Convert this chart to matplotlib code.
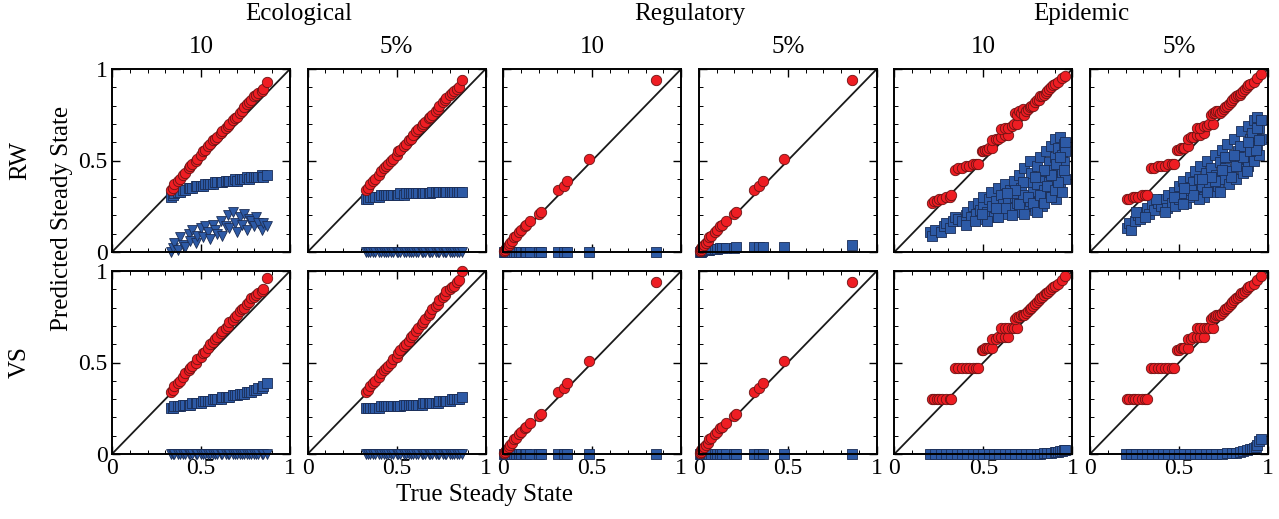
import numpy as np
import matplotlib
matplotlib.use('Agg')
from matplotlib import pyplot as plt
from matplotlib.ticker import MultipleLocator

plt.rcParams['font.family'] = ['Liberation Serif', 'DejaVu Serif']

# ---- data ----
groups = ['Ecological', 'Regulatory', 'Epidemic']
sub_titles = ['10', '5%']
row_labels = ['RW', 'VS']
tick_vals = [0, 0.5, 1]
tick_text = ['0', '0.5', '1']

# ecological
eco_x = [0.33, 0.34, 0.35, 0.37, 0.38, 0.40, 0.41, 0.43, 0.44, 0.45, 0.47, 0.48, 0.50, 0.51,
         0.52, 0.54, 0.55, 0.57, 0.58, 0.59, 0.61, 0.62, 0.64, 0.65, 0.66, 0.68, 0.69, 0.70,
         0.72, 0.73, 0.74, 0.76, 0.77, 0.78, 0.80, 0.81, 0.82, 0.84, 0.85, 0.87]
eco_rw10_red = [0.34, 0.35, 0.37, 0.39, 0.40, 0.42, 0.43, 0.46, 0.47, 0.48, 0.50, 0.51, 0.53, 0.55,
                0.56, 0.58, 0.59, 0.61, 0.62, 0.63, 0.65, 0.66, 0.68, 0.69, 0.70, 0.72, 0.73, 0.74,
                0.76, 0.77, 0.79, 0.81, 0.82, 0.83, 0.85, 0.86, 0.87, 0.88, 0.89, 0.93]
eco_rw5_red = [0.34, 0.35, 0.37, 0.39, 0.40, 0.42, 0.44, 0.46, 0.47, 0.48, 0.50, 0.51, 0.53, 0.55,
               0.56, 0.58, 0.59, 0.61, 0.62, 0.64, 0.66, 0.67, 0.69, 0.70, 0.71, 0.73, 0.74, 0.75,
               0.77, 0.78, 0.80, 0.82, 0.83, 0.84, 0.86, 0.87, 0.88, 0.89, 0.90, 0.94]
eco_vs10_red = [0.34, 0.35, 0.37, 0.39, 0.40, 0.42, 0.44, 0.46, 0.47, 0.48, 0.50, 0.52, 0.53, 0.55,
                0.56, 0.58, 0.60, 0.61, 0.63, 0.64, 0.66, 0.67, 0.69, 0.70, 0.72, 0.73, 0.75, 0.76,
                0.78, 0.79, 0.80, 0.82, 0.83, 0.85, 0.86, 0.87, 0.88, 0.89, 0.90, 0.96]
eco_vs5_red = [0.34, 0.35, 0.37, 0.39, 0.40, 0.42, 0.44, 0.46, 0.47, 0.48, 0.50, 0.52, 0.53, 0.55,
               0.57, 0.59, 0.60, 0.62, 0.64, 0.65, 0.67, 0.69, 0.71, 0.72, 0.74, 0.76, 0.77, 0.79,
               0.81, 0.82, 0.84, 0.86, 0.87, 0.89, 0.90, 0.91, 0.92, 0.94, 0.95, 1.00]
eco_rw10_sq = [0.30, 0.31, 0.32, 0.33, 0.33, 0.34, 0.34, 0.35, 0.35, 0.35, 0.36, 0.36, 0.36, 0.36,
               0.37, 0.37, 0.37, 0.37, 0.38, 0.38, 0.38, 0.38, 0.39, 0.39, 0.39, 0.39, 0.40, 0.39,
               0.40, 0.40, 0.40, 0.41, 0.40, 0.41, 0.41, 0.41, 0.41, 0.42, 0.41, 0.42]
eco_rw5_sq = [0.29, 0.29, 0.30, 0.30, 0.30, 0.30, 0.31, 0.31, 0.31, 0.31, 0.31, 0.31, 0.31, 0.31,
              0.32, 0.31, 0.32, 0.32, 0.32, 0.32, 0.32, 0.32, 0.32, 0.32, 0.32, 0.32, 0.32, 0.33,
              0.33, 0.33, 0.33, 0.33, 0.33, 0.33, 0.33, 0.33, 0.33, 0.33, 0.33, 0.33]
eco_vs10_sq = [0.25, 0.25, 0.26, 0.26, 0.26, 0.27, 0.27, 0.27, 0.27, 0.28, 0.28, 0.28, 0.28, 0.29,
               0.29, 0.29, 0.29, 0.30, 0.30, 0.30, 0.30, 0.31, 0.31, 0.31, 0.31, 0.32, 0.32, 0.32,
               0.33, 0.33, 0.33, 0.34, 0.34, 0.34, 0.35, 0.35, 0.36, 0.36, 0.37, 0.39]
eco_vs5_sq = [0.25, 0.25, 0.25, 0.25, 0.25, 0.25, 0.26, 0.26, 0.26, 0.26, 0.26, 0.26, 0.26, 0.26,
              0.26, 0.27, 0.27, 0.27, 0.27, 0.27, 0.27, 0.27, 0.27, 0.28, 0.28, 0.28, 0.28, 0.28,
              0.28, 0.28, 0.29, 0.29, 0.29, 0.29, 0.29, 0.30, 0.30, 0.30, 0.30, 0.31]
eco_rw10_tri = [0.00, 0.02, 0.05, 0.01, 0.08, 0.04, 0.03, 0.10, 0.06, 0.12, 0.05, 0.09, 0.13, 0.08,
                0.14, 0.11, 0.07, 0.15, 0.12, 0.10, 0.17, 0.09, 0.14, 0.20, 0.13, 0.22, 0.16, 0.11,
                0.19, 0.15, 0.21, 0.12, 0.18, 0.17, 0.14, 0.19, 0.16, 0.12, 0.16, 0.14]
eco_zero_tri = [0.0] * 40

# regulatory
reg_x = [0.005, 0.01, 0.015, 0.02, 0.03, 0.04, 0.05, 0.06, 0.07, 0.09, 0.10, 0.12, 0.13, 0.15,
         0.20, 0.21, 0.31, 0.34, 0.36, 0.48, 0.86]
reg_red = [0.005, 0.01, 0.02, 0.03, 0.04, 0.05, 0.06, 0.08, 0.09, 0.11, 0.12, 0.14, 0.15, 0.17,
           0.21, 0.22, 0.34, 0.36, 0.39, 0.51, 0.94]
reg_rw10_sq = [0.0, 0.0, 0.0, 0.0, 0.0, 0.0, 0.0, 0.0, 0.0, 0.0, 0.0, 0.0, 0.0, 0.0,
               0.0, 0.0, 0.0, 0.0, 0.0, 0.0, 0.0]
reg_rw5_sq = [0.0, 0.0, 0.005, 0.005, 0.01, 0.01, 0.01, 0.01, 0.015, 0.015, 0.015, 0.02, 0.02, 0.02,
              0.02, 0.025, 0.025, 0.025, 0.025, 0.03, 0.04]
reg_vs_sq = [0.0, 0.0, 0.0, 0.0, 0.0, 0.0, 0.0, 0.0, 0.0, 0.0, 0.0, 0.0, 0.0, 0.0,
             0.0, 0.0, 0.0, 0.0, 0.0, 0.0, 0.0]

# epidemic
epi_x = [0.21, 0.22, 0.24, 0.25, 0.27, 0.29, 0.31, 0.32,
         0.34, 0.36, 0.38, 0.40, 0.42, 0.44, 0.46, 0.47,
         0.49, 0.50, 0.51, 0.52, 0.53, 0.55,
         0.55, 0.57, 0.58, 0.60, 0.62, 0.64,
         0.60, 0.62, 0.64, 0.66, 0.67, 0.69,
         0.68, 0.69, 0.70, 0.71, 0.72,
         0.73, 0.74, 0.75, 0.76, 0.77, 0.78, 0.79, 0.80, 0.81, 0.82, 0.83, 0.84, 0.85, 0.86,
         0.87, 0.88, 0.89, 0.90, 0.92, 0.94, 0.96]
epi_rw10_red = [0.27, 0.28, 0.28, 0.29, 0.29, 0.30, 0.30, 0.31,
                0.45, 0.46, 0.46, 0.47, 0.47, 0.48, 0.48, 0.48,
                0.55, 0.55, 0.56, 0.56, 0.57, 0.57,
                0.61, 0.62, 0.62, 0.63, 0.64, 0.64,
                0.67, 0.68, 0.68, 0.69, 0.70, 0.70,
                0.76, 0.75, 0.77, 0.76, 0.78,
                0.75, 0.77, 0.78, 0.79, 0.80, 0.80, 0.82, 0.83, 0.83, 0.85, 0.85, 0.86, 0.87, 0.88,
                0.89, 0.90, 0.91, 0.92, 0.93, 0.95, 0.96]
epi_rw5_red = [0.29, 0.29, 0.30, 0.30, 0.30, 0.31, 0.31, 0.31,
               0.46, 0.46, 0.47, 0.47, 0.47, 0.48, 0.48, 0.48,
               0.56, 0.56, 0.57, 0.57, 0.57, 0.58,
               0.62, 0.63, 0.63, 0.64, 0.64, 0.65,
               0.68, 0.68, 0.69, 0.69, 0.70, 0.70,
               0.75, 0.76, 0.76, 0.77, 0.77,
               0.76, 0.77, 0.78, 0.79, 0.80, 0.81, 0.82, 0.83, 0.84, 0.85, 0.86, 0.86, 0.87, 0.88,
               0.89, 0.90, 0.91, 0.92, 0.93, 0.95, 0.97]
epi_vs_red = [0.30, 0.30, 0.30, 0.30, 0.30, 0.30, 0.30, 0.30,
              0.47, 0.47, 0.47, 0.47, 0.47, 0.47, 0.47, 0.47,
              0.57, 0.57, 0.58, 0.58, 0.58, 0.58,
              0.63, 0.63, 0.64, 0.64, 0.64, 0.64,
              0.69, 0.69, 0.69, 0.69, 0.69, 0.69,
              0.74, 0.75, 0.75, 0.76, 0.76,
              0.76, 0.77, 0.78, 0.79, 0.80, 0.81, 0.82, 0.83, 0.84, 0.85, 0.86, 0.87, 0.88, 0.88,
              0.89, 0.90, 0.91, 0.92, 0.93, 0.95, 0.97]

epi_rw10_sq_x = [0.20, 0.21, 0.23, 0.26, 0.28, 0.29, 0.31, 0.33, 0.34, 0.36,
                 0.38, 0.40, 0.41, 0.43, 0.44, 0.46, 0.47, 0.48, 0.49, 0.50, 0.50,
                 0.52, 0.53, 0.54, 0.55, 0.56, 0.57, 0.58, 0.59, 0.60, 0.61, 0.62, 0.63, 0.64, 0.65,
                 0.66, 0.67, 0.68, 0.69, 0.70, 0.70, 0.71, 0.72, 0.73, 0.74, 0.75, 0.76, 0.76, 0.77,
                 0.78, 0.79, 0.80, 0.80,
                 0.81, 0.82, 0.83, 0.83, 0.84, 0.85, 0.85, 0.86, 0.87, 0.87, 0.88, 0.89, 0.89, 0.90,
                 0.90, 0.91, 0.91, 0.92, 0.92, 0.93, 0.93, 0.94, 0.94, 0.95, 0.95, 0.96, 0.96,
                 0.40, 0.45, 0.52, 0.58, 0.62, 0.66, 0.70, 0.73, 0.75, 0.78, 0.80, 0.82, 0.84, 0.86,
                 0.88, 0.90, 0.91, 0.92, 0.93, 0.94, 0.95, 0.96, 0.88, 0.84, 0.79, 0.72, 0.68, 0.63,
                 0.57, 0.49]
epi_rw10_sq_y = [0.11, 0.09, 0.12, 0.11, 0.14, 0.16, 0.13, 0.17, 0.19, 0.18,
                 0.17, 0.20, 0.22, 0.19, 0.25, 0.21, 0.27, 0.23, 0.18, 0.26, 0.30,
                 0.22, 0.29, 0.33, 0.25, 0.19, 0.28, 0.35, 0.23, 0.31, 0.26, 0.37, 0.21, 0.29, 0.34,
                 0.24, 0.39, 0.30, 0.27, 0.42, 0.22, 0.35, 0.31, 0.46, 0.25, 0.38, 0.50, 0.28, 0.43,
                 0.33, 0.23, 0.47, 0.37,
                 0.28, 0.52, 0.41, 0.25, 0.34, 0.55, 0.44, 0.30, 0.49, 0.38, 0.58, 0.33, 0.45, 0.62,
                 0.52, 0.40, 0.29, 0.57, 0.47, 0.36, 0.63, 0.53, 0.43, 0.59, 0.49, 0.40, 0.55,
                 0.15, 0.17, 0.17, 0.19, 0.24, 0.20, 0.26, 0.21, 0.30, 0.27, 0.22, 0.31, 0.27, 0.36,
                 0.30, 0.34, 0.48, 0.38, 0.52, 0.33, 0.45, 0.60, 0.42, 0.45, 0.41, 0.38, 0.34, 0.32,
                 0.24, 0.21]

epi_rw5_sq_x = [0.21, 0.22, 0.23, 0.25, 0.27, 0.28, 0.30, 0.32, 0.33, 0.35, 0.36, 0.38, 0.40, 0.41,
                0.43, 0.44, 0.46, 0.47, 0.48, 0.50, 0.50, 0.52, 0.53, 0.54, 0.55, 0.56, 0.57, 0.58,
                0.59, 0.60, 0.61, 0.62, 0.63, 0.64, 0.65, 0.66, 0.67, 0.68, 0.69, 0.70, 0.71, 0.72,
                0.73, 0.74, 0.75, 0.76, 0.77, 0.78, 0.79, 0.80, 0.81, 0.82, 0.83, 0.84, 0.85, 0.86,
                0.87, 0.88, 0.89, 0.89, 0.90, 0.91, 0.92, 0.92, 0.93, 0.94, 0.94, 0.95, 0.95, 0.96,
                0.26, 0.31, 0.37, 0.42, 0.47, 0.52, 0.57, 0.61, 0.66, 0.70, 0.73, 0.76, 0.79, 0.82,
                0.84, 0.86, 0.88, 0.90, 0.91, 0.93, 0.94, 0.95, 0.96, 0.89, 0.81, 0.74, 0.68, 0.63,
                0.58, 0.53]
epi_rw5_sq_y = [0.13, 0.16, 0.12, 0.17, 0.20, 0.18, 0.22, 0.24, 0.21, 0.26, 0.23, 0.27, 0.25, 0.29,
                0.24, 0.31, 0.27, 0.33, 0.25, 0.36, 0.29, 0.39, 0.32, 0.27, 0.35, 0.41, 0.30, 0.38,
                0.44, 0.33, 0.40, 0.47, 0.36, 0.30, 0.43, 0.50, 0.38, 0.46, 0.33, 0.53, 0.42, 0.36,
                0.49, 0.56, 0.40, 0.46, 0.59, 0.37, 0.52, 0.44, 0.62, 0.40, 0.55, 0.48, 0.66, 0.43,
                0.58, 0.51, 0.69, 0.47, 0.62, 0.55, 0.72, 0.50, 0.65, 0.58, 0.74, 0.53, 0.68, 0.62,
                0.22, 0.19, 0.29, 0.22, 0.30, 0.26, 0.34, 0.29, 0.33, 0.39, 0.33, 0.52, 0.41, 0.47,
                0.58, 0.52, 0.44, 0.55, 0.65, 0.56, 0.68, 0.61, 0.72, 0.60, 0.53, 0.45, 0.41, 0.40,
                0.31, 0.35]

epi_vs_sq_x = [0.20, 0.23, 0.26, 0.29, 0.32, 0.35, 0.38, 0.41, 0.44, 0.47, 0.50, 0.53, 0.56, 0.59,
               0.62, 0.65, 0.68, 0.71, 0.74, 0.77, 0.80, 0.82, 0.84, 0.86, 0.88, 0.90, 0.91, 0.92,
               0.93, 0.94, 0.95, 0.96]
epi_vs10_sq_y = [0.0, 0.0, 0.0, 0.0, 0.0, 0.0, 0.0, 0.0, 0.0, 0.0, 0.0, 0.0, 0.0, 0.0,
                 0.0, 0.0, 0.0, 0.0, 0.0, 0.0, 0.0, 0.0, 0.005, 0.005, 0.005, 0.01, 0.01, 0.01,
                 0.015, 0.015, 0.02, 0.02]
epi_vs5_sq_y = [0.0, 0.0, 0.0, 0.0, 0.0, 0.0, 0.0, 0.0, 0.0, 0.0, 0.0, 0.0, 0.0, 0.0,
                0.0, 0.0, 0.0, 0.0, 0.0, 0.003, 0.005, 0.008, 0.01, 0.015, 0.02, 0.025, 0.03, 0.035,
                0.04, 0.05, 0.07, 0.08]

# panels[row][col] = (x_red, y_red, x_sq, y_sq, x_tri, y_tri)
panels = [
    [(eco_x, eco_rw10_red, eco_x, eco_rw10_sq, eco_x, eco_rw10_tri),
     (eco_x, eco_rw5_red, eco_x, eco_rw5_sq, eco_x, eco_zero_tri),
     (reg_x, reg_red, reg_x, reg_rw10_sq, None, None),
     (reg_x, reg_red, reg_x, reg_rw5_sq, None, None),
     (epi_x, epi_rw10_red, epi_rw10_sq_x, epi_rw10_sq_y, None, None),
     (epi_x, epi_rw5_red, epi_rw5_sq_x, epi_rw5_sq_y, None, None)],
    [(eco_x, eco_vs10_red, eco_x, eco_vs10_sq, eco_x, eco_zero_tri),
     (eco_x, eco_vs5_red, eco_x, eco_vs5_sq, eco_x, eco_zero_tri),
     (reg_x, reg_red, reg_x, reg_vs_sq, None, None),
     (reg_x, reg_red, reg_x, reg_vs_sq, None, None),
     (epi_x, epi_vs_red, epi_vs_sq_x, epi_vs10_sq_y, None, None),
     (epi_x, epi_vs_red, epi_vs_sq_x, epi_vs5_sq_y, None, None)],
]

red_face, red_edge = '#ee1d23', '#6b1313'
blue_face, blue_edge = '#2d5aa6', '#1b2d55'

W, H = 1279, 519
fig = plt.figure(figsize=(W / 100, H / 100), dpi=100)

col_left = [112, 307.6, 503.2, 698.8, 894.4, 1090]
row_top = [69, 271]
ax_w, ax_h = 178, 183

for r in range(2):
    for c in range(6):
        ax = fig.add_axes([col_left[c] / W, 1 - (row_top[r] + ax_h) / H, ax_w / W, ax_h / H])
        xr, yr, xs, ys, xt, yt = panels[r][c]
        sq_size = 58 if c >= 4 else 46
        ax.plot([0, 1], [0, 1], color='#1a1a1a', lw=1.3, zorder=1)
        if xt is not None:
            ax.scatter(xt, yt, s=50, marker='v', c=blue_face, edgecolors=blue_edge,
                       linewidths=0.6, zorder=2, clip_on=False)
        ax.scatter(xs, ys, s=sq_size, marker='s', c=blue_face, edgecolors=blue_edge,
                   linewidths=0.6, zorder=3, clip_on=False)
        ax.scatter(xr, yr, s=56, marker='o', c=red_face, edgecolors=red_edge,
                   linewidths=0.6, zorder=4, clip_on=False)
        ax.set_xlim(0, 1)
        ax.set_ylim(0, 1)
        for sp in ax.spines.values():
            sp.set_linewidth(1.4)
            sp.set_zorder(5)
        ax.xaxis.set_minor_locator(MultipleLocator(0.1))
        ax.yaxis.set_minor_locator(MultipleLocator(0.1))
        ax.tick_params(which='both', direction='in', top=True, right=True, width=1.0)
        ax.tick_params(which='major', length=6)
        ax.tick_params(which='minor', length=3, width=0.7)
        ax.set_xticks(tick_vals)
        ax.set_yticks(tick_vals)
        ax.set_xticklabels(tick_text if r == 1 else [], fontsize=17)
        ax.set_yticklabels(tick_text if c == 0 else [], fontsize=17)
        ax.tick_params(axis='x', pad=3)
        ax.tick_params(axis='y', pad=3)

# headers
for g in range(3):
    cx = (col_left[2 * g] + col_left[2 * g + 1] + ax_w) / 2
    fig.text(cx / W, 1 - 14 / H, groups[g], ha='center', va='center', fontsize=18)
    for k in range(2):
        sx = col_left[2 * g + k] + ax_w / 2
        fig.text(sx / W, 1 - 47 / H, sub_titles[k], ha='center', va='center', fontsize=18)

for r in range(2):
    cy = row_top[r] + ax_h / 2
    fig.text(20 / W, 1 - cy / H, row_labels[r], ha='center', va='center',
             rotation=90, fontsize=18)

fig.text(62 / W, 1 - 218 / H, 'Predicted Steady State', ha='center', va='center',
         rotation=90, fontsize=18)
fig.text(485 / W, 1 - 495 / H, 'True Steady State', ha='center', va='center', fontsize=18)

fig.savefig('out.png', dpi=100)
